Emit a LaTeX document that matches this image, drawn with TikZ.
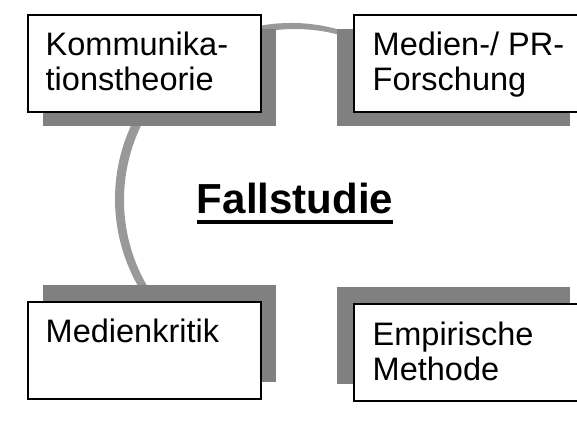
\documentclass[tikz,border=0pt]{standalone}
\usepackage{fontspec}
\setmainfont{Liberation Sans}
\begin{document}
\begin{tikzpicture}[x=1pt,y=1pt,
  shadowbox/.style={fill=shadowgray,draw=none,minimum width=233pt,minimum height=97pt,inner sep=0pt,anchor=north west},
  whitebox/.style={fill=white,draw=black,line width=1.5pt,minimum width=233pt,minimum height=97pt,inner sep=0pt,anchor=north west},
  boxtext/.style={anchor=north west,inner sep=0pt,align=left,font=\fontsize{32.5}{35.5}\selectfont},
]
\definecolor{shadowgray}{gray}{0.5}
\definecolor{arcgray}{gray}{0.6}
\clip (0,0) rectangle (577,-437);
\fill[white] (0,0) rectangle (577,-437);

% crescent-shaped arc running behind the boxes
\fill[arcgray] ([shift={(60:176)}]291,-199) arc[start angle=60,end angle=220,radius=176]
  -- ([shift={(220:171)}]295,-200) arc[start angle=220,end angle=60,radius=171] -- cycle;

% shadows
\node[shadowbox] (s1) at (43,-29) {};
\node[shadowbox] (s2) at (337,-29) {};
\node[shadowbox] (s3) at (43,-285) {};
\node[shadowbox] (s4) at (337,-287) {};

% boxes
\node[whitebox] (b1) at (27,-14) {};
\node[whitebox] (b2) at (353,-14) {};
\node[whitebox] (b3) at (27,-301) {};
\node[whitebox] (b4) at (353,-303) {};

% labels
\node[boxtext] (t1) at (45.5,-31.5) {Kommunika-\\tionstheorie};
\node[boxtext] (t2) at (372.5,-31.5) {Medien-/ PR-\\Forschung};
\node[boxtext] (t3) at (45.5,-318.5) {Medienkritik};
\node[boxtext] (t4) at (372.5,-321.5) {Empirische\\Methode};

% centre title
\node[anchor=base,inner sep=0pt,font=\fontsize{42}{48}\selectfont\bfseries] (title) at (295,-213) {Fallstudie};
\draw[line width=3.5pt] ([yshift=-9pt]title.base west) -- ([yshift=-9pt]title.base east);
\end{tikzpicture}
\end{document}
